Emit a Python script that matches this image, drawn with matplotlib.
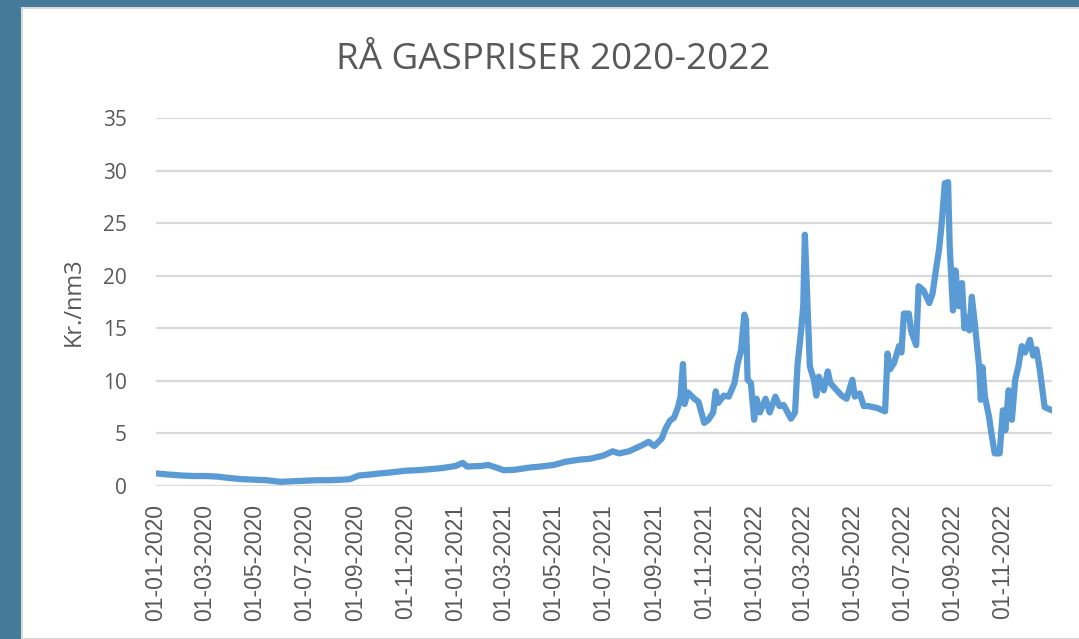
import numpy as np
import pandas as pd
import matplotlib
matplotlib.use("Agg")
import matplotlib.pyplot as plt
import matplotlib.dates as mdates
from matplotlib.patches import Rectangle

# price readings (kr./nm3)
dates = [
    "2020-01-01", "2020-01-15", "2020-02-01", "2020-02-15", "2020-03-01", "2020-03-15",
    "2020-04-01", "2020-04-15", "2020-05-01", "2020-05-15", "2020-06-01", "2020-06-15",
    "2020-07-01", "2020-07-15", "2020-08-01", "2020-08-15", "2020-08-25", "2020-09-05",
    "2020-09-20", "2020-10-01", "2020-10-15", "2020-11-01", "2020-11-15", "2020-12-01",
    "2020-12-15", "2021-01-01", "2021-01-10", "2021-01-15", "2021-02-01", "2021-02-10",
    "2021-02-20", "2021-03-01", "2021-03-15", "2021-04-01", "2021-04-15", "2021-05-01",
    "2021-05-15", "2021-06-01", "2021-06-15", "2021-07-01", "2021-07-12", "2021-07-20",
    "2021-08-01", "2021-08-15", "2021-08-25", "2021-09-01", "2021-09-10", "2021-09-15",
    "2021-09-20", "2021-09-25", "2021-09-30", "2021-10-03", "2021-10-06", "2021-10-08",
    "2021-10-12", "2021-10-20", "2021-10-25", "2021-11-01", "2021-11-06", "2021-11-12",
    "2021-11-15", "2021-11-18", "2021-11-25", "2021-12-01", "2021-12-08", "2021-12-12",
    "2021-12-16", "2021-12-20", "2021-12-22", "2021-12-24", "2021-12-28", "2022-01-01",
    "2022-01-04", "2022-01-08", "2022-01-15", "2022-01-20", "2022-01-27", "2022-02-01",
    "2022-02-06", "2022-02-15", "2022-02-20", "2022-02-23", "2022-02-27", "2022-03-02",
    "2022-03-04", "2022-03-07", "2022-03-10", "2022-03-15", "2022-03-18", "2022-03-21",
    "2022-03-27", "2022-04-01", "2022-04-04", "2022-04-12", "2022-04-18", "2022-04-24",
    "2022-05-01", "2022-05-04", "2022-05-10", "2022-05-15", "2022-05-21", "2022-06-01",
    "2022-06-10", "2022-06-13", "2022-06-16", "2022-06-21", "2022-06-27", "2022-06-30",
    "2022-07-03", "2022-07-09", "2022-07-12", "2022-07-18", "2022-07-21", "2022-07-27",
    "2022-08-03", "2022-08-07", "2022-08-12", "2022-08-15", "2022-08-18", "2022-08-22",
    "2022-08-26", "2022-08-28", "2022-09-01", "2022-09-04", "2022-09-08", "2022-09-12",
    "2022-09-15", "2022-09-18", "2022-09-21", "2022-09-24", "2022-09-28", "2022-10-03",
    "2022-10-05", "2022-10-07", "2022-10-10", "2022-10-15", "2022-10-18", "2022-10-22",
    "2022-10-28", "2022-11-01", "2022-11-04", "2022-11-08", "2022-11-12", "2022-11-16",
    "2022-11-20", "2022-11-24", "2022-11-28", "2022-12-04", "2022-12-08", "2022-12-12",
    "2022-12-16", "2022-12-22", "2022-12-31",
]
prices = [
    1.2, 1.1, 1.0, 0.95, 0.95, 0.9,
    0.75, 0.65, 0.6, 0.55, 0.4, 0.45,
    0.5, 0.55, 0.55, 0.6, 0.65, 1.0,
    1.1, 1.2, 1.3, 1.45, 1.5, 1.6,
    1.7, 1.9, 2.2, 1.85, 1.9, 2.0,
    1.75, 1.5, 1.55, 1.75, 1.85, 2.0,
    2.3, 2.5, 2.6, 2.9, 3.3, 3.1,
    3.3, 3.8, 4.2, 3.8, 4.5, 5.5,
    6.2, 6.5, 7.5, 8.5, 11.6, 7.8,
    8.9, 8.3, 8.0, 6.0, 6.3, 7.0,
    9.0, 7.9, 8.6, 8.5, 9.8, 11.7,
    12.9, 16.3, 15.8, 10.1, 9.8, 6.3,
    8.3, 7.0, 8.3, 7.0, 8.5, 7.6,
    7.7, 6.4, 7.0, 11.5, 14.5, 17.1,
    23.9, 17.7, 11.4, 10.1, 8.6, 10.4,
    9.1, 10.9, 9.8, 9.1, 8.6, 8.3,
    10.1, 8.5, 8.8, 7.6, 7.6, 7.4,
    7.1, 12.6, 11.1, 11.7, 13.3, 12.7,
    16.4, 16.4, 14.7, 13.4, 19.0, 18.6,
    17.4, 18.3, 21.0, 22.5, 24.8, 28.8,
    28.9, 22.8, 16.7, 20.5, 17.1, 19.3,
    15.0, 16.0, 14.8, 18.0, 15.2, 11.3,
    8.2, 11.3, 8.5, 6.6, 5.0, 3.1,
    3.1, 7.2, 5.3, 9.1, 6.3, 10.1,
    11.4, 13.3, 12.7, 13.9, 12.4, 13.0,
    11.1, 7.5, 7.2,
]

title = "RÅ GASPRISER 2020-2022"
ylabel = "Kr./nm3"

dt = pd.to_datetime(dates)

fig = plt.figure(figsize=(10.79, 6.39), dpi=100)
fig.patch.set_facecolor("#437b99")
# white chart card behind the axes
fig.patches.append(Rectangle((22 / 1079, 0), 1, 631 / 639, transform=fig.transFigure,
                             facecolor="white", edgecolor="#d9d9d9", linewidth=1.5, zorder=-5))

ax = fig.add_axes([156 / 1079, 153 / 639, (1052 - 156) / 1079, (486 - 118) / 639])
ax.set_facecolor("none")
ax.set_zorder(2)
ax.plot(dt, prices, color="#5b9bd5", linewidth=4.5, solid_joinstyle="round", zorder=3)

ax.set_ylim(0, 35)
ax.set_yticks(range(0, 36, 5))
ax.set_xlim(pd.Timestamp("2020-01-01"), pd.Timestamp("2022-12-31"))
ax.xaxis.set_major_locator(mdates.MonthLocator(bymonth=[1, 3, 5, 7, 9, 11]))
ax.xaxis.set_major_formatter(mdates.DateFormatter("%d-%m-%Y"))

ax.grid(axis="y", color="#d9d9d9", linewidth=1.6)
ax.set_axisbelow(True)
for s in ax.spines.values():
    s.set_visible(False)
ax.tick_params(length=0)
ax.tick_params(axis="y", pad=21, labelsize=15, labelcolor="#595959")
ax.tick_params(axis="x", pad=13, labelsize=16.5, labelcolor="#595959", rotation=90)
for lbl in ax.get_yticklabels():
    lbl.set_fontfamily("Open Sans")
for lbl in ax.get_xticklabels():
    lbl.set_fontfamily("Liberation Sans")

ax.set_ylabel(ylabel, fontsize=17, color="#595959", family="Open Sans", labelpad=12)
fig.text(553 / 1079, 1 - 60 / 639, title, ha="center", va="center",
         fontsize=26.5, color="#595959", family="Open Sans")

fig.savefig("out.png", dpi=100, facecolor=fig.get_facecolor())
